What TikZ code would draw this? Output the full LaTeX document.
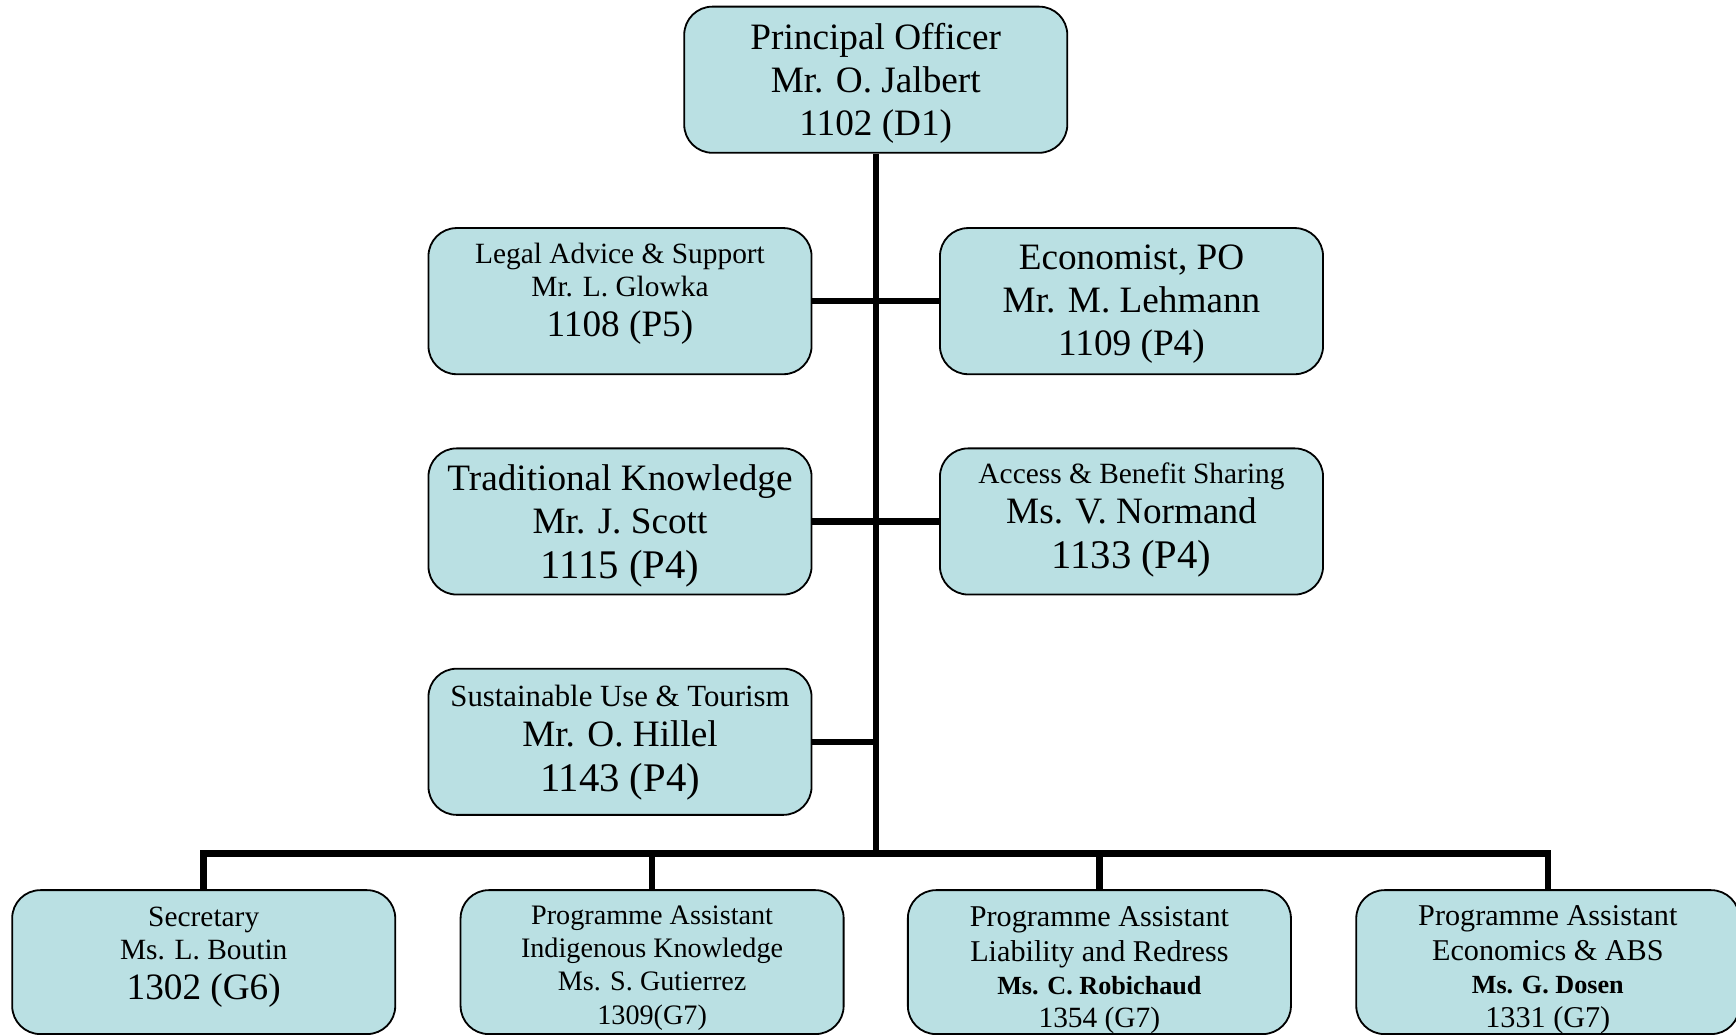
\documentclass[tikz,border=0pt]{standalone}
\usepackage{fontspec}
\setmainfont{Liberation Serif}
\definecolor{boxfill}{RGB}{186,224,227}
% line fonts with struts; optional argument = extra room above the line
\newcommand\Xl[1][0pt]{\fontsize{20.2}{23.2}\selectfont\vrule width 0pt height \dimexpr 16.2pt+#1\relax depth 7pt\relax}
\newcommand\Lg[1][0pt]{\fontsize{18.5}{21.3}\selectfont\vrule width 0pt height \dimexpr 14.9pt+#1\relax depth 6.4pt\relax}
\newcommand\Md[1][0pt]{\fontsize{15}{17.6}\selectfont\vrule width 0pt height \dimexpr 12.3pt+#1\relax depth 5.3pt\relax}
\newcommand\Su[1][0pt]{\fontsize{15.3}{17.6}\selectfont\vrule width 0pt height \dimexpr 11.5pt+#1\relax depth 5pt\relax}
\newcommand\Sm[1][0pt]{\fontsize{14.6}{16.5}\selectfont\vrule width 0pt height \dimexpr 11.5pt+#1\relax depth 5pt\relax}
\newcommand\Si[1][0pt]{\fontsize{14}{16.5}\selectfont\vrule width 0pt height \dimexpr 11.5pt+#1\relax depth 5pt\relax}
\newcommand\Sb{\fontsize{13}{15.6}\selectfont\bfseries\vrule width 0pt height 11pt depth 4.6pt\relax}
\newcommand\Dp[1]{\vrule width 0pt height 0pt depth #1\relax}
\newcommand\orgfont{\setlength{\baselineskip}{0pt}\setlength{\lineskip}{0pt}\setlength{\lineskiplimit}{0pt}}
\tikzset{
  orgbox/.style={draw=black, line width=0.9pt, fill=boxfill, rounded corners=14pt,
    minimum width=190.3pt, minimum height=72.6pt, inner sep=0pt, align=center,
    font=\orgfont},
  lowbox/.style={orgbox, minimum height=71.5pt},
  conn/.style={draw=black, line width=3.2pt, line join=miter}
}
\begin{document}
\begin{tikzpicture}[x=0.55pt,y=-0.55pt]
\useasboundingbox[fill=white] (0,0) rectangle (1568,935);
\node[orgbox] (top)   at (791,72)  {\Lg[3.9pt]Principal Officer\\ \Lg Mr. O. Jalbert\\ \Lg 1102 (D1)};
\node[orgbox] (legal) at (560,272) {\Sm Legal Advice \& Support\\ \Sm Mr. L. Glowka\\ \Lg 1108 (P5)\Dp{12.4pt}};
\node[orgbox] (econ)  at (1022,272) {\Lg[2.8pt]Economist, PO\\ \Lg Mr. M. Lehmann\\ \Lg 1109 (P4)};
\node[orgbox] (tk)    at (560,471) {\Lg[5.3pt]Traditional Knowledge\\ \Lg Mr. J. Scott\\ \Xl 1115 (P4)};
\node[orgbox] (abs)   at (1022,471) {\Sm Access \& Benefit Sharing\\ \Lg Ms. V. Normand\\ \Xl 1133 (P4)};
\node[orgbox] (sust)  at (560,670) {\Su[2.8pt]Sustainable Use \& Tourism\\ \Lg Mr. O. Hillel\\ \Xl 1143 (P4)};
\node[lowbox] (b1) at (184,869) {\Sm Secretary\\ \Sm Ms. L. Boutin\\ \Lg 1302 (G6)\Dp{10.8pt}};
\node[lowbox] (b2) at (589,869) {\Si[5.5pt]Programme Assistant\\ \Si Indigenous Knowledge\\ \Si Ms. S. Gutierrez\\ \Si 1309(G7)};
\node[lowbox, text depth=0pt] (b3) at (993,869) {\Md[2.2pt]Programme Assistant\\ \Md Liability and Redress\\ \Sb Ms. C. Robichaud\\ \Sm 1354 (G7)};
\node[lowbox, text depth=0pt] (b4) at (1398,869) {\Md[1.9pt]Programme Assistant\\ \Md Economics \& ABS\\ \Sb Ms. G. Dosen\\ \Md 1331 (G7)};
\coordinate (bus) at (791,771);
\draw[conn] (top.south) -- (bus);
\draw[conn] (legal.east) -- (econ.west);
\draw[conn] (tk.east) -- (abs.west);
\draw[conn] (sust.east) -- (sust.east -| bus);
\draw[conn] (b1.north) |- (bus) -| (b4.north);
\draw[conn] (b2.north) -- (b2.north |- bus);
\draw[conn] (b3.north) -- (b3.north |- bus);
\end{tikzpicture}
\end{document}
